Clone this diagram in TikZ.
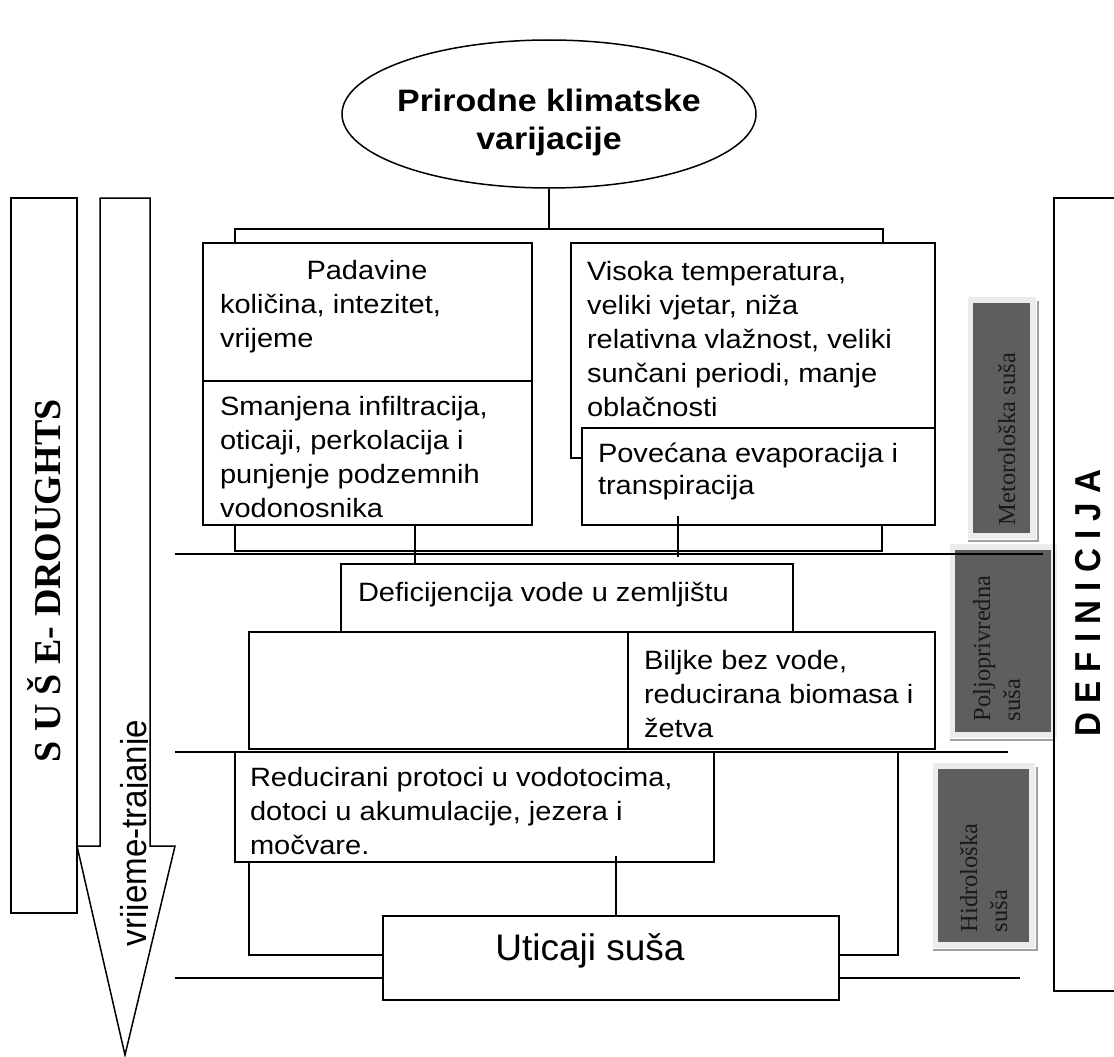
\documentclass[tikz,border=0pt]{standalone}
\usepackage{fontspec}
\setmainfont{Liberation Sans}
\newfontfamily\seriffam{Liberation Serif}
\newfontfamily\widesans{Liberation Sans}[FakeStretch=1.095]
\newfontfamily\narrowsans{Liberation Sans}[FakeStretch=0.92]
\usetikzlibrary{shapes.geometric,calc}

\definecolor{bandgrey}{HTML}{5E5E5E}
\definecolor{halogrey}{HTML}{ECECEC}
\definecolor{shadegrey}{HTML}{A0A0A0}

\tikzset{
  box/.style={draw, fill=white, anchor=north west, inner sep=0pt, outer sep=0pt},
  body/.style={anchor=base west, inner sep=0pt, outer sep=0pt,
               font=\widesans\fontsize{26.5}{34}\selectfont},
  bandbox/.style={fill=bandgrey, anchor=north west, inner sep=0pt, outer sep=0pt},
  bandtext/.style={rotate=90, anchor=base west, inner sep=0pt, text=black!90,
                   font=\seriffam\fontsize{24.5}{28}\selectfont},
  shadowline/.style={shadegrey, line width=1.8pt},
}

% lines of a text block, one node per line, 34pt apart
\newcommand\textlines[4]{%
  \foreach \lineText [count=\lineNo from 0] in {#4}
    \node[body] (#1-\lineNo) at (#2,#3+34*\lineNo) {\lineText};
}

% grey label band: name, x, y, width, height, right shadow (1/0)
\newcommand\droughtband[6]{%
  \fill[halogrey] (#2-5,#3-6) rectangle (#2+#4+6,#3+#5+6);
  \ifnum#6=1
    \draw[shadowline] (#2-5,#3+#5+8) -| (#2+#4+8,#3-2);
  \else
    \draw[shadowline] (#2-5,#3+#5+8) -- (#2+#4+2,#3+#5+8);
  \fi
  \node[bandbox, minimum width=#4pt, minimum height=#5pt] (#1) at (#2,#3) {};
}

\begin{document}
\begin{tikzpicture}[x=1pt, y=-1pt, line width=1.5pt]
\useasboundingbox (0,0) rectangle (1114,1057);
\fill[white] (0,0) rectangle (1114,1057);

% ---- left column: title bar and time arrow
\node[box, minimum width=66pt, minimum height=715pt] (droughts) at (11,198) {};
\node[rotate=90, anchor=base, inner sep=0pt,
      font=\seriffam\bfseries\fontsize{38}{40}\selectfont] (droughtsText) at (60,581) {S U Š E- DROUGHTS};

\draw[fill=white] (100,198) -- (150,198) -- (150,846) -- (175,846) -- (125,1055)
                  -- (77,846) -- (100,846) -- cycle;
\begin{scope}
  \clip (80,198) rectangle (147,1057);
  \node[rotate=90, anchor=base west, inner sep=0pt, font=\narrowsans\fontsize{36}{38}\selectfont]
        (timeText) at (146,947) {vrijeme-trajanje};
\end{scope}

% ---- right column: grey bands and definition bar
\droughtband{meteo}{973}{303}{57}{230}{1}
\droughtband{agri}{955}{550}{96}{182}{0}
\droughtband{hydro}{938}{769}{91}{173}{1}
\node[bandtext] (meteoText) at (1015,526) {Metorološka suša};
\node[bandtext] (agriText1) at (990,722) {Poljoprivredna};
\node[bandtext] (agriText2) at (1020,722) {suša};
\node[bandtext] (hydroText1) at (977,933) {Hidrološka};
\node[bandtext] (hydroText2) at (1007,933) {suša};

\node[draw, anchor=north west, inner sep=0pt, minimum width=80pt, minimum height=793pt]
      (definition) at (1053,197) {};
\node[rotate=90, anchor=base, inner sep=0pt, font=\narrowsans\bfseries\fontsize{36}{38}\selectfont]
      (definitionText) at (1100,603) {D E F I N I C I J A};

% ---- level separators
\coordinate (sepA1) at (175,554);  \coordinate (sepA2) at (1043,554);
\coordinate (sepB1) at (175,752);  \coordinate (sepB2) at (1008,752);
\coordinate (sepC1) at (175,978);  \coordinate (sepC2) at (1020,978);
\draw (sepA1) -- (sepA2);
\draw (sepB1) -- (sepB2);
\draw (sepC1) -- (sepC2);

% ---- cause
\node[draw, ellipse, fill=white, inner sep=0pt, minimum width=414pt, minimum height=148pt]
      (climate) at (549,114) {};
\node[align=center, inner sep=0pt, font=\widesans\bfseries\fontsize{31}{38}\selectfont]
      (climateText) at (549,122) {Prirodne klimatske\\varijacije};

% ---- meteorological level
\node[box, minimum width=329pt, minimum height=138pt] (rain) at (203,243) {};
\node[box, minimum width=329pt, minimum height=144pt] (infil) at (203,381) {};
\node[box, minimum width=364pt, minimum height=215pt] (heat) at (571,243) {};
\node[box, minimum width=353pt, minimum height=97pt] (evap) at (582,428) {};

\coordinate (topJoin) at (549,229);
\draw (climate.south) -- (topJoin);
\draw ($(rain.north west)+(32,0)$) |- (topJoin) -| ($(heat.north west)+(312,0)$);

% ---- agricultural level
\node[box, minimum width=452pt, minimum height=68pt] (soil) at (341,564) {};
\node[box, minimum width=686pt, minimum height=117pt] (crop) at (249,632) {};
\node[box, minimum width=307pt, minimum height=117pt] (plants) at (628,632) {};

\coordinate (midJoin) at (549,551);
\draw ($(infil.south west)+(32,0)$) |- (midJoin) -| ($(evap.south west)+(300,0)$);
\draw ($(infil.south west)+(212,0)$) -- ($(soil.north west)+(74,0)$);
\draw ($(evap.south west)+(96,-9)$) -- ($(evap.south west)+(96,32)$);

% ---- hydrological level and impacts
\node[box, minimum width=479pt, minimum height=110pt] (flow) at (235,752) {};
\node[box, minimum width=456pt, minimum height=84pt] (impact) at (383,916) {};

\draw ($(flow.south west)+(14,0)$) |- ($(impact.north west)+(0,39)$);
\draw ($(impact.north east)+(0,39)$) -| ($(flow.north east)+(184,0)$);
\draw ($(flow.south west)+(381,-6)$) -- ($(impact.north west)+(233,0)$);

% ---- texts
\node[body, anchor=base] (rainHead) at (367,279) {Padavine};
\textlines{rainT}{220}{313}{{količina, intezitet,},{vrijeme}}
\textlines{infilT}{220}{415}{{Smanjena infiltracija,},{oticaji, perkolacija i},{punjenje podzemnih},{vodonosnika}}
\textlines{heatT}{587}{280}{{Visoka temperatura,},{veliki vjetar, niža},{relativna vlažnost, veliki},{sunčani periodi, manje},{oblačnosti}}
\node[body] (evapT-0) at (598,462) {Povećana evaporacija i};
\node[body] (evapT-1) at (598,494) {transpiracija};
\textlines{soilT}{358}{601}{{Deficijencija vode u zemljištu}}
\textlines{plantsT}{644}{669}{{Biljke bez vode,},{reducirana biomasa i},{žetva}}
\textlines{flowT}{250}{786}{{Reducirani protoci u vodotocima,},{dotoci u akumulacije, jezera i},{močvare.}}
\node[anchor=base, inner sep=0pt, font=\fontsize{37}{40}\selectfont] (impactText) at (590,960) {Uticaji suša};
\end{tikzpicture}
\end{document}
